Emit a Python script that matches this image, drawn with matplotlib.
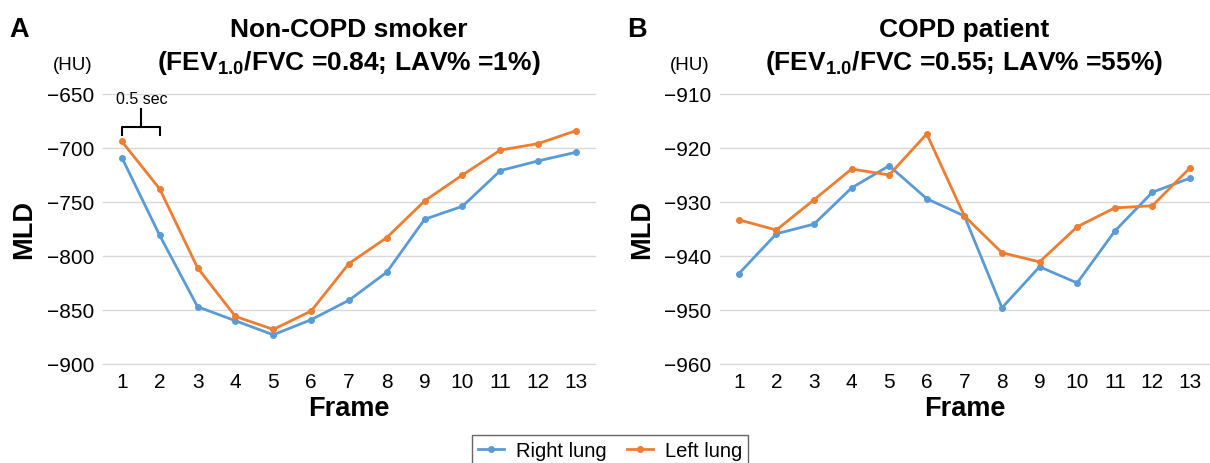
import matplotlib
matplotlib.use("Agg")
import matplotlib.pyplot as plt

plt.rcParams['font.family'] = ['Liberation Sans', 'DejaVu Sans']
plt.rcParams['mathtext.fontset'] = 'custom'
plt.rcParams['mathtext.rm'] = 'Liberation Sans'
plt.rcParams['mathtext.bf'] = 'Liberation Sans:bold'

frames = list(range(1, 14))

# panel A - non-COPD smoker
a_right = [-709, -781, -847, -860, -873, -859, -841, -815, -766, -754, -721, -712, -704]
a_left = [-694, -738, -811, -856, -868, -851, -807, -783, -749, -725, -702, -696, -684]
a_ticks = [-650, -700, -750, -800, -850, -900]

# panel B - COPD patient
b_right = [-943.3, -935.9, -934.1, -927.4, -923.3, -929.4, -932.6, -949.6, -942.0, -945.0, -935.4, -928.2, -925.6]
b_left = [-933.3, -935.2, -929.6, -923.9, -925.0, -917.4, -932.6, -939.4, -941.1, -934.6, -931.1, -930.7, -923.7]
b_ticks = [-910, -920, -930, -940, -950, -960]

blue = '#5B9BD5'
orange = '#ED7D31'

fig = plt.figure(figsize=(12.1, 4.64), dpi=100)

def panel(rect, right, left, ticks, letter, t1, t2):
    ax = fig.add_axes(rect)
    l1, = ax.plot(frames, right, color=blue, lw=2, marker='o', ms=4, label='Right lung')
    l2, = ax.plot(frames, left, color=orange, lw=2, marker='o', ms=4, label='Left lung')
    ax.set_xlim(0.5, 13.5)
    ax.set_ylim(ticks[-1], ticks[0])
    ax.set_yticks(ticks)
    ax.set_xticks(frames)
    ax.tick_params(length=0, labelsize=15, pad=6)
    ax.grid(axis='y', color='#d9d9d9', lw=1)
    for g in ax.get_ygridlines():
        g.set_clip_on(False)
    ax.set_axisbelow(True)
    for s in ax.spines.values():
        s.set_visible(False)
    ax.set_xlabel('Frame', fontsize=19.5, fontweight='bold', labelpad=3)
    ax.set_ylabel('MLD', fontsize=19.5, fontweight='bold', labelpad=7)
    ax.text(-0.062, 1.11, '(HU)', transform=ax.transAxes, fontsize=13.5, ha='center', va='center')
    ax.text(0.5, 1.24, t1, transform=ax.transAxes, fontsize=19, fontweight='bold', ha='center', va='center')
    ax.text(0.5, 1.12, t2, transform=ax.transAxes, fontsize=19, fontweight='bold', ha='center', va='center')
    x0 = rect[0] - 0.077
    fig.text(x0, 0.935, letter, fontsize=19.5, fontweight='bold', ha='left', va='center')
    return ax, l1, l2

axA, l1, l2 = panel([0.0851, 0.2134, 0.4066, 0.582], a_right, a_left, a_ticks, 'A',
                    'Non-COPD smoker', r'(FEV$_{\mathbf{1.0}}$/FVC =0.84; LAV% =1%)')
axB, _, _ = panel([0.595, 0.2134, 0.404, 0.582], b_right, b_left, b_ticks, 'B',
                  'COPD patient', r'(FEV$_{\mathbf{1.0}}$/FVC =0.55; LAV% =55%)')

# 0.5 sec bracket
axA.plot([1, 1, 2, 2], [-688, -680.5, -680.5, -688], color='black', lw=1.5, clip_on=False)
axA.plot([1.5, 1.5], [-680.5, -664], color='black', lw=1.5, clip_on=False)
axA.text(1.52, -654.5, '0.5 sec', fontsize=11.5, ha='center', va='center')

fig.legend(handles=[l1, l2], loc='lower center', bbox_to_anchor=(0.504, -0.028), ncol=2,
           fontsize=14.5, frameon=True, fancybox=False, edgecolor='#404040',
           handlelength=1.3, handletextpad=0.6, columnspacing=1.0, borderpad=0.3)

fig.savefig('out.png', dpi=100)
